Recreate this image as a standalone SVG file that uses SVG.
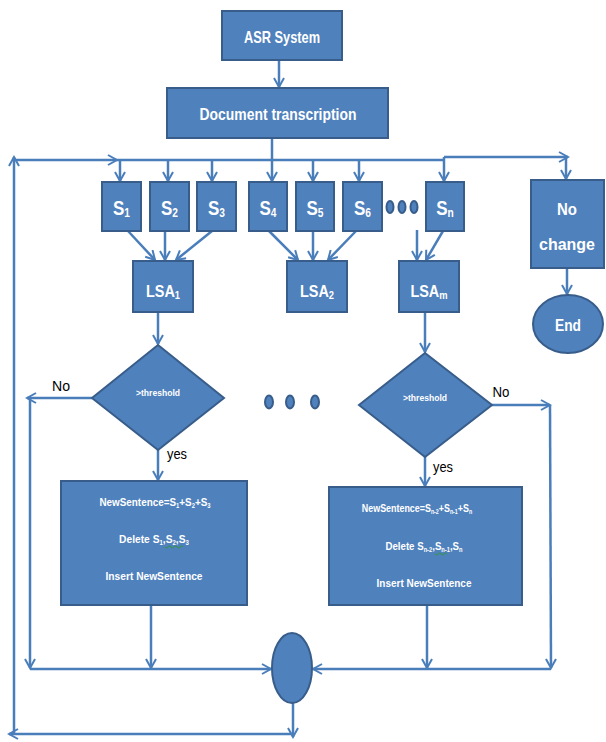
<svg xmlns="http://www.w3.org/2000/svg" width="606" height="742" viewBox="0 0 606 742">
  <style>
    .node { fill: #4F81BD; stroke: #385D8A; stroke-width: 2; }
    .conn { fill: none; stroke: #4A7EBB; stroke-width: 2.5; }
    .arr  { marker-end: url(#open); }
    .w { fill: #FFFFFF; font-family: "Liberation Sans", Arial, sans-serif; text-anchor: middle; font-weight: bold; }
    .k { fill: #000000; font-family: "Liberation Sans", Arial, sans-serif; text-anchor: middle; }
    .lbl { font-size: 17px; }
    .s { font-size: 20px; }
    .sub { font-size: 11px; }
    .ssub { font-size: 12px; }
    .thr { font-size: 8.5px; }
    .box { font-size: 11px; }
    .bsub { font-size: 6.5px; }
    .yn { font-size: 15px; }
  </style>
  <defs>
    <marker id="open" markerWidth="12" markerHeight="12" refX="10" refY="6" orient="auto" markerUnits="userSpaceOnUse">
      <path d="M1,1 L10,6 L1,11" fill="none" stroke="#4A7EBB" stroke-width="2"/>
    </marker>
  </defs>

  <rect width="606" height="742" fill="#FFFFFF"/>

  <!-- connectors -->
  <g id="connectors">
    <line class="conn arr" x1="279" y1="60" x2="279" y2="87"/>
    <line class="conn arr" x1="272" y1="138" x2="272" y2="181"/>
    <!-- top distribution bus -->
    <line class="conn arr" x1="14" y1="160" x2="117" y2="160"/>
    <line class="conn" x1="117" y1="160" x2="444" y2="160"/>
    <line class="conn arr" x1="444" y1="157" x2="568" y2="157"/>
    <line class="conn arr" x1="120" y1="160" x2="120" y2="181"/>
    <line class="conn arr" x1="168" y1="160" x2="168" y2="181"/>
    <line class="conn arr" x1="212" y1="160" x2="212" y2="181"/>
    <line class="conn arr" x1="313" y1="160" x2="313" y2="181"/>
    <line class="conn arr" x1="359" y1="160" x2="359" y2="181"/>
    <line class="conn arr" x1="444" y1="157" x2="444" y2="181"/>
    <line class="conn arr" x1="566" y1="157" x2="566" y2="179"/>
    <!-- sentences to LSA -->
    <line class="conn arr" x1="128" y1="231" x2="155" y2="260"/>
    <line class="conn arr" x1="165" y1="231" x2="165" y2="260"/>
    <line class="conn arr" x1="212" y1="231" x2="176" y2="260"/>
    <line class="conn arr" x1="269" y1="231" x2="298" y2="260"/>
    <line class="conn arr" x1="313" y1="231" x2="313" y2="260"/>
    <line class="conn arr" x1="356" y1="231" x2="328" y2="260"/>
    <line class="conn arr" x1="417" y1="230" x2="417" y2="260"/>
    <line class="conn arr" x1="443" y1="231" x2="426" y2="260"/>
    <!-- no change to end -->
    <line class="conn arr" x1="567" y1="268" x2="567" y2="294"/>
    <!-- LSA to decisions -->
    <line class="conn arr" x1="158" y1="312" x2="158" y2="344"/>
    <line class="conn arr" x1="425" y1="312" x2="425" y2="352"/>
    <line class="conn arr" x1="158" y1="450" x2="158" y2="480"/>
    <line class="conn arr" x1="425" y1="457" x2="425" y2="486"/>
    <!-- left "No" branch -->
    <line class="conn arr" x1="92" y1="398" x2="27" y2="398"/>
    <line class="conn arr" x1="30" y1="398" x2="30" y2="668"/>
    <line class="conn arr" x1="30" y1="669" x2="271" y2="669"/>
    <line class="conn arr" x1="151" y1="605" x2="151" y2="668"/>
    <!-- right "No" branch -->
    <line class="conn arr" x1="492" y1="405" x2="550" y2="405"/>
    <line class="conn arr" x1="550" y1="405" x2="551" y2="668"/>
    <line class="conn arr" x1="551" y1="669" x2="313" y2="669"/>
    <line class="conn arr" x1="427" y1="606" x2="427" y2="668"/>
    <!-- loop back to the top -->
    <line class="conn arr" x1="293" y1="703" x2="293" y2="737"/>
    <line class="conn arr" x1="293" y1="734" x2="9" y2="734"/>
    <line class="conn arr" x1="14" y1="734" x2="14" y2="157"/>
  </g>

  <g id="asr">
    <rect class="node" x="222" y="11" width="120" height="49"/>
    <text class="w lbl" x="282" y="43" textLength="76" lengthAdjust="spacingAndGlyphs">ASR System</text>
  </g>
  <g id="doc">
    <rect class="node" x="167" y="88" width="221" height="50"/>
    <text class="w lbl" x="278" y="120" textLength="157" lengthAdjust="spacingAndGlyphs">Document transcription</text>
  </g>

  <g id="s1"><rect class="node" x="102" y="182" width="39" height="49"/><text class="w s" transform="translate(121.5,215) scale(0.85,1)">S<tspan class="ssub" dy="2">1</tspan></text></g>
  <g id="s2"><rect class="node" x="150" y="182" width="39" height="49"/><text class="w s" transform="translate(169.5,215) scale(0.85,1)">S<tspan class="ssub" dy="2">2</tspan></text></g>
  <g id="s3"><rect class="node" x="197" y="182" width="39" height="49"/><text class="w s" transform="translate(216.5,215) scale(0.85,1)">S<tspan class="ssub" dy="2">3</tspan></text></g>
  <g id="s4"><rect class="node" x="249" y="182" width="38" height="49"/><text class="w s" transform="translate(268,215) scale(0.85,1)">S<tspan class="ssub" dy="2">4</tspan></text></g>
  <g id="s5"><rect class="node" x="296" y="182" width="38" height="49"/><text class="w s" transform="translate(315,215) scale(0.85,1)">S<tspan class="ssub" dy="2">5</tspan></text></g>
  <g id="s6"><rect class="node" x="343" y="182" width="39" height="49"/><text class="w s" transform="translate(362.5,215) scale(0.85,1)">S<tspan class="ssub" dy="2">6</tspan></text></g>
  <g id="dots-top">
    <ellipse class="node" cx="390" cy="207" rx="3.5" ry="6"/>
    <ellipse class="node" cx="402" cy="207" rx="3.5" ry="6"/>
    <ellipse class="node" cx="414" cy="207" rx="3.5" ry="6"/>
  </g>
  <g id="sn"><rect class="node" x="426" y="182" width="38" height="49"/><text class="w s" transform="translate(445,215) scale(0.85,1)">S<tspan class="ssub" dy="2">n</tspan></text></g>

  <g id="nochange">
    <rect class="node" x="531" y="180" width="73" height="88"/>
    <text class="w lbl" x="567" y="215" textLength="20" lengthAdjust="spacingAndGlyphs">No</text>
    <text class="w lbl" x="567" y="250" textLength="56" lengthAdjust="spacingAndGlyphs">change</text>
  </g>
  <g id="end">
    <ellipse class="node" cx="568" cy="324" rx="35" ry="29"/>
    <text class="w lbl" x="568" y="331" textLength="26" lengthAdjust="spacingAndGlyphs">End</text>
  </g>

  <g id="lsa1"><rect class="node" x="133" y="261" width="60" height="51"/><text class="w lbl" transform="translate(163,297) scale(0.85,1)">LSA<tspan class="sub" dy="2">1</tspan></text></g>
  <g id="lsa2"><rect class="node" x="287" y="261" width="60" height="51"/><text class="w lbl" transform="translate(317,297) scale(0.85,1)">LSA<tspan class="sub" dy="2">2</tspan></text></g>
  <g id="lsam"><rect class="node" x="399" y="261" width="60" height="51"/><text class="w lbl" transform="translate(429,297) scale(0.85,1)">LSA<tspan class="sub" dy="2">m</tspan></text></g>

  <g id="decision1">
    <polygon class="node" points="158,345 224,398 158,450 92,398"/>
    <text class="w thr" x="158" y="396" textLength="44" lengthAdjust="spacingAndGlyphs">&gt;threshold</text>
  </g>
  <g id="decision2">
    <polygon class="node" points="425,353 492,405 425,457 359,405"/>
    <text class="w thr" x="425" y="401" textLength="44" lengthAdjust="spacingAndGlyphs">&gt;threshold</text>
  </g>

  <g id="dots-mid">
    <ellipse class="node" cx="269" cy="402" rx="4" ry="6.5"/>
    <ellipse class="node" cx="290" cy="402" rx="4" ry="6.5"/>
    <ellipse class="node" cx="315" cy="402" rx="4" ry="6.5"/>
  </g>

  <g id="branch-labels">
    <text class="k yn" x="61" y="391" textLength="18" lengthAdjust="spacingAndGlyphs">No</text>
    <text class="k yn" x="501" y="397" textLength="17" lengthAdjust="spacingAndGlyphs">No</text>
    <text class="k yn" x="177" y="459" textLength="20" lengthAdjust="spacingAndGlyphs">yes</text>
    <text class="k yn" x="443" y="472" textLength="20" lengthAdjust="spacingAndGlyphs">yes</text>
  </g>

  <g id="merge1">
    <rect class="node" x="61" y="481" width="186" height="124"/>
    <text class="w box" transform="translate(155,506) scale(0.9,1)">NewSentence=S<tspan class="bsub" dy="1.5">1</tspan><tspan dy="-1.5">+S</tspan><tspan class="bsub" dy="1.5">2</tspan><tspan dy="-1.5">+S</tspan><tspan class="bsub" dy="1.5">3</tspan></text>
    <text class="w box" transform="translate(154,543) scale(0.93,1)">Delete S<tspan class="bsub" dy="1.5">1</tspan><tspan dy="-1.5">,S</tspan><tspan class="bsub" dy="1.5">2</tspan><tspan dy="-1.5">,S</tspan><tspan class="bsub" dy="1.5">3</tspan></text>
    <path d="M165,547 q1.5,2 3,0 t3,0 t3,0 t3,0 t3,0 t3,0" fill="none" stroke="#2E9B2E" stroke-width="0.9"/>
    <text class="w box" x="154" y="580" textLength="97" lengthAdjust="spacingAndGlyphs">Insert NewSentence</text>
  </g>
  <g id="merge2">
    <rect class="node" x="329" y="487" width="193" height="118"/>
    <text class="w box" transform="translate(417,512) scale(0.81,1)">NewSentence=S<tspan class="bsub" dy="1.5">n-2</tspan><tspan dy="-1.5">+S</tspan><tspan class="bsub" dy="1.5">n-1</tspan><tspan dy="-1.5">+S</tspan><tspan class="bsub" dy="1.5">n</tspan></text>
    <text class="w box" transform="translate(424,550) scale(0.88,1)">Delete S<tspan class="bsub" dy="1.5">n-2</tspan><tspan dy="-1.5">,S</tspan><tspan class="bsub" dy="1.5">n-1</tspan><tspan dy="-1.5">,S</tspan><tspan class="bsub" dy="1.5">n</tspan></text>
    <path d="M435,554 q1.5,2 3,0 t3,0 t3,0 t3,0" fill="none" stroke="#2E9B2E" stroke-width="0.9"/>
    <text class="w box" x="424" y="587" textLength="95" lengthAdjust="spacingAndGlyphs">Insert NewSentence</text>
  </g>

  <g id="join">
    <ellipse class="node" cx="292" cy="668" rx="20" ry="35"/>
  </g>
</svg>
